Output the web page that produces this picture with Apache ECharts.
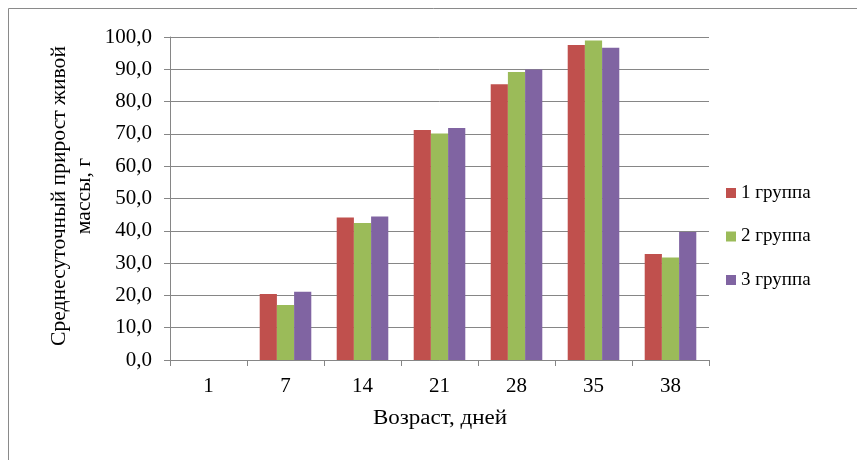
<!DOCTYPE html>
<html>
<head>
<meta charset="utf-8">
<script src="https://cdn.jsdelivr.net/npm/echarts@6/dist/echarts.min.js"></script>
<style>
  html, body { margin: 0; padding: 0; background: #fff; }
  #chart { width: 857px; height: 460px; }
</style>
</head>
<body>
<div id="chart"></div>
<script>
// Age in days
const ages = ['1', '7', '14', '21', '28', '35', '38'];
// Average daily live-weight gain, g
const group1 = [0, 20.4, 44.1, 71.2, 85.4, 97.5, 32.8];
const group2 = [0, 17.0, 42.4, 70.1, 89.2, 98.9, 31.7];
const group3 = [0, 21.1, 44.4, 71.8, 89.9, 96.7, 39.6];
const seriesNames = ['1 группа', '2 группа', '3 группа'];
const yTitle = 'Среднесуточный прирост живой\nмассы, г';
const xTitle = 'Возраст, дней';

const FONT = '"Liberation Serif", "Times New Roman", serif';
const colors = ['#C0504D', '#9BBB59', '#8064A2'];
const gridGray = '#868686';

const chart = echarts.init(document.getElementById('chart'), null, { renderer: 'canvas' });

const makeBar = (name, data) => ({
  name, type: 'bar', data,
  barGap: '0%', barCategoryGap: '33%'
});

chart.setOption({
  animation: false,
  color: colors,
  textStyle: { fontFamily: FONT, color: '#000' },
  grid: { left: 170, right: 148, top: 37, bottom: 100, containLabel: false },
  legend: {
    orient: 'vertical',
    left: 726, top: 183, padding: 0,
    itemWidth: 10, itemHeight: 10, itemGap: 23.5,
    icon: 'rect',
    textStyle: { fontFamily: FONT, fontSize: 19, color: '#000', lineHeight: 20 },
    data: seriesNames
  },
  xAxis: {
    type: 'category',
    data: ages,
    axisLine: { lineStyle: { color: gridGray, width: 1 } },
    axisTick: { show: true, length: 6, lineStyle: { color: gridGray } },
    axisLabel: { fontFamily: FONT, fontSize: 21, color: '#000', margin: 16 }
  },
  yAxis: {
    type: 'value',
    min: 0, max: 100, interval: 10,
    axisLine: { show: true, lineStyle: { color: gridGray, width: 1 } },
    axisTick: { show: true, length: 6, lineStyle: { color: gridGray } },
    splitLine: { lineStyle: { color: gridGray, width: 1 } },
    axisLabel: {
      fontFamily: FONT, fontSize: 21, color: '#000', margin: 18,
      formatter: v => v.toFixed(1).replace('.', ',')
    }
  },
  graphic: [
    {
      type: 'rect', silent: true,
      shape: { x: 8.5, y: 8.5, width: 900, height: 500 },
      style: { fill: 'none', stroke: '#8a8a8a', lineWidth: 1 }
    },
    {
      type: 'text', silent: true,
      x: 72, y: 196, rotation: Math.PI / 2, scaleX: 1.08,
      style: {
        text: yTitle, fontFamily: FONT, fontSize: 20, lineHeight: 25,
        fill: '#000', align: 'center', verticalAlign: 'middle'
      }
    },
    {
      type: 'text', silent: true,
      x: 440, y: 419, scaleX: 1.15,
      style: {
        text: xTitle, fontFamily: FONT, fontSize: 20,
        fill: '#000', align: 'center', verticalAlign: 'middle'
      }
    }
  ],
  series: [
    makeBar(seriesNames[0], group1),
    makeBar(seriesNames[1], group2),
    makeBar(seriesNames[2], group3)
  ]
});
</script>
</body>
</html>
